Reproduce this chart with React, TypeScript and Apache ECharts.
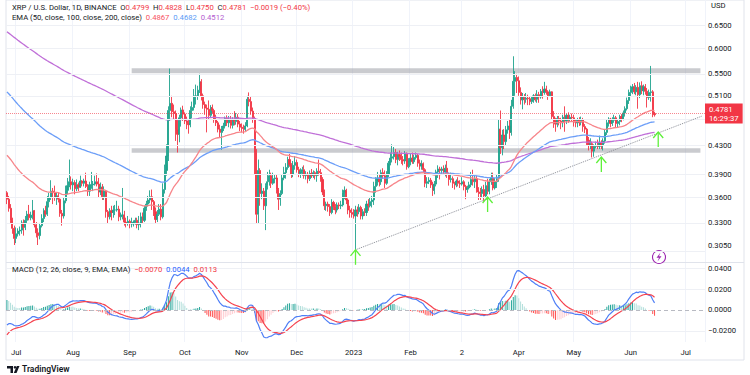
import React, { useEffect, useRef } from 'react';
import * as echarts from 'echarts';

// ---- data (daily XRP/USD, 2022-06-26 .. 2023-06-14) ----
const startDate = Date.UTC(2022, 5, 26);
const totalDays = 381; // axis runs to 2023-07-11
const firstOpen = 0.366;

const closes = [
  // Jun 26-30 2022
  0.358, 0.347, 0.333, 0.324, 0.313,
  // Jul
  0.318, 0.321, 0.322, 0.330, 0.325, 0.333, 0.340, 0.336, 0.339, 0.344, 0.328, 0.319, 0.316, 0.327, 0.335, 0.344,
  0.340, 0.355, 0.360, 0.368, 0.366, 0.360, 0.362, 0.358, 0.341, 0.338, 0.356, 0.369, 0.375, 0.380, 0.376,
  // Aug
  0.379, 0.371, 0.376, 0.373, 0.381, 0.378, 0.381, 0.374, 0.368, 0.376, 0.376, 0.377, 0.380, 0.377, 0.367, 0.373,
  0.361, 0.368, 0.343, 0.337, 0.344, 0.342, 0.345, 0.345, 0.346, 0.337, 0.339, 0.339, 0.331, 0.330, 0.332,
  // Sep
  0.329, 0.329, 0.331, 0.333, 0.328, 0.330, 0.337, 0.333, 0.347, 0.352, 0.357, 0.361, 0.355, 0.343, 0.334, 0.340,
  0.346, 0.337, 0.370, 0.395, 0.415, 0.485, 0.497, 0.483, 0.480, 0.454, 0.447, 0.473, 0.486, 0.479,
  // Oct
  0.468, 0.464, 0.462, 0.485, 0.490, 0.510, 0.510, 0.520, 0.535, 0.510, 0.495, 0.489, 0.487, 0.477, 0.490, 0.485,
  0.470, 0.465, 0.455, 0.450, 0.456, 0.460, 0.472, 0.465, 0.470, 0.461, 0.470, 0.467, 0.474, 0.463, 0.458,
  // Nov
  0.456, 0.455, 0.460, 0.504, 0.500, 0.484, 0.472, 0.420, 0.340, 0.395, 0.365, 0.368, 0.350, 0.375, 0.380, 0.388,
  0.378, 0.384, 0.385, 0.370, 0.358, 0.365, 0.385, 0.392, 0.399, 0.410, 0.403, 0.390, 0.402, 0.406,
  // Dec
  0.396, 0.391, 0.394, 0.396, 0.388, 0.390, 0.384, 0.391, 0.388, 0.392, 0.388, 0.394, 0.392, 0.383, 0.367, 0.350,
  0.352, 0.349, 0.342, 0.354, 0.349, 0.345, 0.351, 0.350, 0.351, 0.366, 0.369, 0.357, 0.345, 0.342, 0.340,
  // Jan 2023
  0.338, 0.345, 0.343, 0.348, 0.338, 0.343, 0.342, 0.352, 0.350, 0.355, 0.357, 0.374, 0.380, 0.385, 0.380, 0.392,
  0.388, 0.378, 0.390, 0.405, 0.412, 0.414, 0.420, 0.410, 0.417, 0.414, 0.410, 0.408, 0.419, 0.400, 0.408,
  // Feb
  0.412, 0.407, 0.413, 0.416, 0.405, 0.401, 0.404, 0.396, 0.378, 0.380, 0.382, 0.376, 0.369, 0.377, 0.393, 0.397,
  0.395, 0.397, 0.393, 0.398, 0.390, 0.383, 0.384, 0.378, 0.376, 0.381, 0.378, 0.377,
  // Mar
  0.380, 0.374, 0.370, 0.372, 0.376, 0.383, 0.380, 0.384, 0.370, 0.367, 0.365, 0.370, 0.362, 0.375, 0.368, 0.380,
  0.385, 0.372, 0.380, 0.384, 0.455, 0.427, 0.446, 0.436, 0.454, 0.460, 0.450, 0.492, 0.536, 0.543, 0.537,
  // Apr
  0.516, 0.503, 0.507, 0.504, 0.506, 0.505, 0.500, 0.503, 0.510, 0.504, 0.512, 0.508, 0.518, 0.516, 0.522, 0.517,
  0.510, 0.517, 0.475, 0.468, 0.463, 0.472, 0.468, 0.465, 0.474, 0.468, 0.477, 0.471, 0.474, 0.473,
  // May
  0.466, 0.465, 0.469, 0.466, 0.470, 0.459, 0.455, 0.438, 0.431, 0.433, 0.422, 0.429, 0.430, 0.429, 0.435, 0.431,
  0.437, 0.450, 0.465, 0.471, 0.464, 0.469, 0.473, 0.464, 0.467, 0.475, 0.471, 0.481, 0.488, 0.502, 0.516,
  // Jun 1-14
  0.521, 0.526, 0.517, 0.525, 0.512, 0.528, 0.519, 0.526, 0.518, 0.507, 0.516, 0.517, 0.4799, 0.4781,
];

const highs = [
  0.368, 0.362, 0.352, 0.336, 0.327,
  0.325, 0.324, 0.326, 0.333, 0.334, 0.338, 0.344, 0.351, 0.343, 0.357, 0.345, 0.331, 0.324, 0.330, 0.340, 0.347,
  0.350, 0.362, 0.366, 0.382, 0.372, 0.375, 0.366, 0.366, 0.359, 0.345, 0.360, 0.375, 0.385, 0.410, 0.387,
  0.384, 0.382, 0.383, 0.379, 0.388, 0.382, 0.384, 0.392, 0.377, 0.380, 0.393, 0.381, 0.388, 0.391, 0.385, 0.379,
  0.377, 0.374, 0.369, 0.345, 0.347, 0.350, 0.350, 0.351, 0.356, 0.350, 0.342, 0.372, 0.344, 0.336, 0.338,
  0.334, 0.336, 0.333, 0.336, 0.336, 0.338, 0.342, 0.342, 0.350, 0.356, 0.362, 0.369, 0.370, 0.357, 0.348, 0.345,
  0.352, 0.352, 0.378, 0.403, 0.432, 0.492, 0.560, 0.510, 0.495, 0.485, 0.470, 0.478, 0.490, 0.493,
  0.482, 0.475, 0.470, 0.492, 0.500, 0.522, 0.530, 0.528, 0.550, 0.540, 0.514, 0.500, 0.495, 0.502, 0.494, 0.495,
  0.488, 0.478, 0.468, 0.462, 0.460, 0.465, 0.475, 0.477, 0.476, 0.476, 0.474, 0.484, 0.481, 0.479, 0.468,
  0.464, 0.462, 0.466, 0.510, 0.516, 0.508, 0.490, 0.475, 0.425, 0.410, 0.398, 0.378, 0.372, 0.378, 0.393, 0.396,
  0.392, 0.392, 0.390, 0.390, 0.372, 0.369, 0.390, 0.400, 0.405, 0.414, 0.418, 0.405, 0.408, 0.415,
  0.410, 0.400, 0.398, 0.400, 0.402, 0.394, 0.393, 0.395, 0.397, 0.395, 0.394, 0.398, 0.410, 0.397, 0.386, 0.370,
  0.355, 0.355, 0.352, 0.358, 0.356, 0.352, 0.354, 0.354, 0.356, 0.370, 0.374, 0.371, 0.359, 0.350, 0.347,
  0.346, 0.350, 0.349, 0.352, 0.350, 0.346, 0.347, 0.356, 0.358, 0.360, 0.362, 0.380, 0.386, 0.393, 0.389, 0.396,
  0.398, 0.395, 0.394, 0.408, 0.420, 0.432, 0.428, 0.425, 0.421, 0.423, 0.420, 0.415, 0.422, 0.420, 0.412,
  0.418, 0.420, 0.417, 0.420, 0.418, 0.410, 0.409, 0.406, 0.398, 0.386, 0.386, 0.385, 0.380, 0.381, 0.396, 0.402,
  0.400, 0.400, 0.402, 0.403, 0.408, 0.392, 0.392, 0.387, 0.380, 0.383, 0.386, 0.382,
  0.386, 0.382, 0.376, 0.375, 0.380, 0.393, 0.396, 0.389, 0.388, 0.373, 0.372, 0.374, 0.376, 0.380, 0.384, 0.384,
  0.392, 0.392, 0.385, 0.390, 0.470, 0.485, 0.454, 0.455, 0.460, 0.468, 0.470, 0.503, 0.584, 0.555, 0.550,
  0.545, 0.525, 0.515, 0.513, 0.515, 0.512, 0.509, 0.508, 0.513, 0.514, 0.520, 0.517, 0.522, 0.527, 0.535, 0.528,
  0.520, 0.521, 0.518, 0.484, 0.473, 0.476, 0.476, 0.473, 0.478, 0.492, 0.480, 0.482, 0.478, 0.480,
  0.478, 0.471, 0.473, 0.474, 0.475, 0.473, 0.463, 0.457, 0.443, 0.441, 0.436, 0.432, 0.436, 0.439, 0.445, 0.438,
  0.441, 0.455, 0.471, 0.474, 0.473, 0.474, 0.478, 0.476, 0.470, 0.478, 0.479, 0.485, 0.492, 0.507, 0.521,
  0.528, 0.531, 0.533, 0.529, 0.535, 0.534, 0.536, 0.530, 0.531, 0.524, 0.521, 0.565, 0.520, 0.4828,
];

const lows = [
  0.352, 0.343, 0.330, 0.318, 0.306,
  0.308, 0.315, 0.316, 0.318, 0.316, 0.322, 0.330, 0.333, 0.333, 0.334, 0.325, 0.314, 0.306, 0.312, 0.325, 0.331,
  0.337, 0.338, 0.348, 0.357, 0.352, 0.356, 0.351, 0.354, 0.337, 0.327, 0.335, 0.353, 0.364, 0.373, 0.370,
  0.368, 0.364, 0.368, 0.368, 0.372, 0.374, 0.374, 0.372, 0.362, 0.362, 0.371, 0.368, 0.375, 0.374, 0.360, 0.363,
  0.357, 0.357, 0.336, 0.330, 0.334, 0.333, 0.336, 0.339, 0.343, 0.332, 0.333, 0.334, 0.327, 0.325, 0.327,
  0.324, 0.325, 0.326, 0.328, 0.324, 0.322, 0.325, 0.330, 0.331, 0.344, 0.349, 0.353, 0.345, 0.338, 0.330, 0.331,
  0.338, 0.333, 0.335, 0.365, 0.388, 0.408, 0.468, 0.474, 0.470, 0.437, 0.420, 0.435, 0.459, 0.468,
  0.463, 0.455, 0.448, 0.458, 0.472, 0.485, 0.495, 0.503, 0.515, 0.502, 0.488, 0.478, 0.450, 0.470, 0.474, 0.480,
  0.465, 0.460, 0.450, 0.443, 0.424, 0.452, 0.456, 0.460, 0.458, 0.456, 0.456, 0.461, 0.462, 0.458, 0.452,
  0.450, 0.448, 0.452, 0.458, 0.492, 0.478, 0.465, 0.390, 0.330, 0.330, 0.350, 0.358, 0.345, 0.322, 0.370, 0.375,
  0.372, 0.376, 0.378, 0.365, 0.345, 0.350, 0.363, 0.382, 0.384, 0.396, 0.400, 0.385, 0.386, 0.396,
  0.392, 0.386, 0.385, 0.388, 0.384, 0.383, 0.378, 0.381, 0.385, 0.385, 0.383, 0.380, 0.388, 0.380, 0.363, 0.345,
  0.344, 0.343, 0.338, 0.340, 0.345, 0.340, 0.342, 0.346, 0.346, 0.349, 0.358, 0.352, 0.340, 0.336, 0.336,
  0.335, 0.301, 0.337, 0.340, 0.334, 0.334, 0.338, 0.338, 0.344, 0.348, 0.348, 0.351, 0.366, 0.375, 0.374, 0.376,
  0.384, 0.372, 0.376, 0.386, 0.402, 0.406, 0.410, 0.405, 0.402, 0.408, 0.404, 0.402, 0.404, 0.396, 0.398,
  0.402, 0.404, 0.404, 0.410, 0.400, 0.396, 0.396, 0.392, 0.373, 0.372, 0.377, 0.372, 0.362, 0.364, 0.374, 0.385,
  0.383, 0.390, 0.389, 0.387, 0.385, 0.375, 0.379, 0.372, 0.370, 0.373, 0.374, 0.372,
  0.375, 0.369, 0.358, 0.366, 0.370, 0.373, 0.375, 0.372, 0.366, 0.357, 0.357, 0.360, 0.356, 0.360, 0.364, 0.364,
  0.376, 0.369, 0.370, 0.372, 0.380, 0.418, 0.416, 0.425, 0.430, 0.448, 0.440, 0.445, 0.488, 0.510, 0.515,
  0.510, 0.495, 0.487, 0.495, 0.498, 0.494, 0.494, 0.496, 0.498, 0.500, 0.498, 0.498, 0.505, 0.505, 0.512, 0.512,
  0.503, 0.508, 0.470, 0.457, 0.451, 0.458, 0.461, 0.455, 0.458, 0.451, 0.463, 0.465, 0.467, 0.467,
  0.459, 0.458, 0.458, 0.460, 0.461, 0.451, 0.449, 0.431, 0.423, 0.425, 0.413, 0.414, 0.426, 0.425, 0.425, 0.425,
  0.423, 0.433, 0.446, 0.459, 0.458, 0.460, 0.465, 0.458, 0.458, 0.461, 0.466, 0.469, 0.475, 0.485, 0.496,
  0.509, 0.513, 0.513, 0.511, 0.488, 0.506, 0.513, 0.511, 0.512, 0.490, 0.503, 0.500, 0.474, 0.4750,
];

// EMA values at the first visible bar (carry-over from earlier history)
const ema50Start = 0.416;
const ema100Start = 0.517;
const ema200Start = 0.635;
const ema12Start = 0.345;
const ema26Start = 0.3594;
const signalStart = -0.024;

// legend read-outs
const ohlcText = { o: '0.4799', h: '0.4828', l: '0.4750', c: '0.4781', chg: '−0.0019 (−0.40%)' };
const emaText = ['0.4867', '0.4682', '0.4512'];
const macdText = ['−0.0070', '0.0044', '0.0113'];

// axis ticks
const priceTicks = [0.305, 0.33, 0.36, 0.39, 0.43, 0.51, 0.55, 0.6, 0.65];
const priceGridLines = [0.305, 0.33, 0.36, 0.39, 0.43, 0.47, 0.51, 0.55, 0.6, 0.65];
const macdTicks = [-0.02, 0, 0.02, 0.04];
const macdGridLines = [-0.02, 0.02, 0.04];
const monthStarts = ['2022-07-01', '2022-08-01', '2022-09-01', '2022-10-01', '2022-11-01', '2022-12-01', '2023-01-01',
  '2023-02-01', '2023-03-01', '2023-04-01', '2023-05-01', '2023-06-01', '2023-07-01'];
const monthLabels = ['Jul', 'Aug', 'Sep', 'Oct', 'Nov', 'Dec', '2023', 'Feb', '2', 'Apr', 'May', 'Jun', 'Jul'];

// drawings
const resistanceBand = [0.5509, 0.5604];
const supportBand = [0.4198, 0.4261];
const bandFrom = '2022-09-02';
const bandTo = '2023-07-09';
const trendFrom: [string, number] = ['2023-01-02', 0.301];
const trendTo: [string, number] = ['2023-07-10', 0.476];
const arrowDates = ['2023-01-02', '2023-03-15', '2023-05-16', '2023-06-16'];
const arrowPrices = [0.301, 0.3607, 0.4136, 0.4506];
const lastPrice = 0.4781;
const countdown = '16:29:37';

const FONT = 'Roboto, "Noto Sans", sans-serif';
const TXT = '#131722';
const FS = 7.7;

function dayStr(i: number) {
  return new Date(startDate + i * 86400000).toISOString().slice(0, 10);
}

function ema(values: number[], seed: number, period: number) {
  const a = 2 / (period + 1);
  const out = [seed];
  for (let i = 1; i < values.length; i++) out.push(a * values[i] + (1 - a) * out[i - 1]);
  return out;
}

export default function App() {
  const ref = useRef<HTMLDivElement>(null);
  useEffect(() => {
    if (!ref.current) return;
    const chart = echarts.init(ref.current, undefined, { renderer: 'svg' });
    const dates = Array.from({ length: totalDays }, (_, i) => dayStr(i));
    const candles = closes.map((c, i) => {
      const o = i === 0 ? firstOpen : closes[i - 1];
      const h = Math.max(highs[i], o, c);
      const l = Math.min(lows[i], o, c);
      return [o, c, l, h];
    });
    const e50 = ema(closes, ema50Start, 50);
    const e100 = ema(closes, ema100Start, 100);
    const e200 = ema(closes, ema200Start, 200);
    const e12 = ema(closes, ema12Start, 12);
    const e26 = ema(closes, ema26Start, 26);
    const macd = e12.map((v, i) => v - e26[i]);
    const signal = [signalStart];
    for (let i = 1; i < macd.length; i++) signal.push(0.2 * macd[i] + 0.8 * signal[i - 1]);
    const hist = macd.map((v, i) => v - signal[i]);
    const histData = hist.map((h, i) => {
      const prev = i === 0 ? h : hist[i - 1];
      const color = h >= 0 ? (h >= prev ? '#26a69a' : '#b2dfdb') : (h < prev ? '#ff5252' : '#ffcdd2');
      return { value: h, itemStyle: { color } };
    });
    const f4 = (v: number) => (v < 0 ? '−' : '') + Math.abs(v).toFixed(4);

    const isMonthStart = (_i: number, v: string) => monthStarts.indexOf(v) >= 0;

    const xBase = {
      type: 'category' as const,
      data: dates,
      boundaryGap: true,
      axisLine: { show: false },
      axisTick: { show: false },
      splitLine: { show: true, interval: isMonthStart, lineStyle: { color: '#f0f3fa', width: 1 } },
    };
    const rt = (fill: string) => ({ fill, fontSize: FS, fontFamily: FONT });

    chart.setOption({
      animation: false,
      textStyle: { fontFamily: FONT },
      grid: [
        { left: 6, right: 45, top: 0, height: 262 },
        { left: 6, right: 45, top: 263, height: 79 },
      ],
      xAxis: [
        { ...xBase, gridIndex: 0, axisLabel: { show: false } },
        {
          ...xBase, gridIndex: 1,
          axisLabel: {
            show: true, interval: isMonthStart, color: TXT, fontSize: FS, margin: 6, fontFamily: FONT,
            formatter: (v: string) => monthLabels[monthStarts.indexOf(v)] ?? '',
          },
        },
      ],
      yAxis: [
        {
          type: 'log', gridIndex: 0, position: 'right', min: 0.2887, max: 0.7081,
          axisLine: { show: false }, axisTick: { show: false }, splitLine: { show: false },
          axisLabel: { customValues: priceTicks, formatter: (v: number) => v.toFixed(4), color: TXT, fontSize: FS, margin: 3, fontFamily: FONT },
        },
        {
          type: 'value', gridIndex: 1, position: 'right', min: -0.0308, max: 0.0452,
          axisLine: { show: false }, axisTick: { show: false }, splitLine: { show: false },
          axisLabel: { customValues: macdTicks, formatter: f4, color: TXT, fontSize: FS, margin: 3, fontFamily: FONT },
        },
      ],
      series: [
        {
          type: 'line', name: 'grid', xAxisIndex: 0, yAxisIndex: 0, data: closes, symbol: 'none', silent: true,
          lineStyle: { opacity: 0 }, z: 0,
          markLine: {
            silent: true, symbol: 'none', label: { show: false },
            lineStyle: { color: '#eef0f5', width: 1, type: 'solid' },
            data: priceGridLines.map((v) => ({ yAxis: v })),
          },
        },
        {
          type: 'candlestick', xAxisIndex: 0, yAxisIndex: 0, data: candles, barWidth: 1.6,
          itemStyle: { color: '#1fa38d', color0: '#f23645', borderColor: '#1fa38d', borderColor0: '#f23645', borderWidth: 0.9 },
          markArea: {
            silent: true,
            itemStyle: { color: 'rgba(150,152,160,0.5)' },
            data: [
              [{ coord: [bandFrom, resistanceBand[1]] }, { coord: [bandTo, resistanceBand[0]] }],
              [{ coord: [bandFrom, supportBand[1]] }, { coord: [bandTo, supportBand[0]] }],
            ],
          },
          markLine: {
            silent: true, symbol: 'none',
            data: [
              {
                yAxis: lastPrice,
                lineStyle: { color: 'rgba(242,54,69,0.6)', type: 'dotted', width: 1 },
                label: {
                  show: true, position: 'end', formatter: `${lastPrice.toFixed(4)}\n${countdown}`,
                  backgroundColor: '#f23645', color: '#ffffff', fontSize: FS, lineHeight: 9, padding: [1, 4, 1, 4],
                  distance: 0, fontFamily: FONT,
                },
              },
              [
                { coord: trendFrom, lineStyle: { color: '#8a8d96', type: 'dotted', width: 1 }, label: { show: false } },
                { coord: trendTo },
              ],
            ],
          },
        },
        { type: 'line', xAxisIndex: 0, yAxisIndex: 0, data: e200, symbol: 'none', silent: true, lineStyle: { color: '#c070d8', width: 1.3 } },
        { type: 'line', xAxisIndex: 0, yAxisIndex: 0, data: e100, symbol: 'none', silent: true, lineStyle: { color: '#6c9ef8', width: 1.3 } },
        { type: 'line', xAxisIndex: 0, yAxisIndex: 0, data: e50, symbol: 'none', silent: true, lineStyle: { color: '#f7858a', width: 1.3 } },
        {
          type: 'custom', xAxisIndex: 0, yAxisIndex: 0, silent: true, z: 10,
          data: arrowDates.map((d, i) => [d, arrowPrices[i]]),
          renderItem: (_p: any, api: any) => {
            const pt = api.coord([api.value(0), api.value(1)]);
            const c = '#5ef03a';
            return {
              type: 'group',
              children: [
                { type: 'line', shape: { x1: pt[0], y1: pt[1], x2: pt[0], y2: pt[1] + 15 }, style: { stroke: c, lineWidth: 1.3 } },
                { type: 'polyline', shape: { points: [[pt[0] - 5, pt[1] + 6], [pt[0], pt[1]], [pt[0] + 5, pt[1] + 6]] }, style: { stroke: c, fill: 'none', lineWidth: 1.3 } },
              ],
            };
          },
        },
        {
          type: 'line', name: 'mgrid', xAxisIndex: 1, yAxisIndex: 1, data: macd, symbol: 'none', silent: true,
          lineStyle: { opacity: 0 }, z: 0,
          markLine: {
            silent: true, symbol: 'none', label: { show: false },
            data: [
              ...macdGridLines.map((v) => ({ yAxis: v, lineStyle: { color: '#eef0f5', width: 1, type: 'solid' } })),
              { yAxis: 0, lineStyle: { color: '#b8bac2', width: 1, type: [4, 3] } },
            ],
          },
        },
        { type: 'bar', xAxisIndex: 1, yAxisIndex: 1, data: histData, barWidth: 1, silent: true },
        { type: 'line', xAxisIndex: 1, yAxisIndex: 1, data: macd, symbol: 'none', silent: true, lineStyle: { color: '#4f7ff6', width: 1.2 } },
        { type: 'line', xAxisIndex: 1, yAxisIndex: 1, data: signal, symbol: 'none', silent: true, lineStyle: { color: '#f5434f', width: 1.2 } },
      ],
      graphic: [
        { type: 'rect', shape: { x: 6, y: 0, width: 738, height: 360 }, style: { fill: 'none', stroke: '#e0e3eb', lineWidth: 1 }, silent: true },
        { type: 'line', shape: { x1: 6, y1: 262.5, x2: 744, y2: 262.5 }, style: { stroke: '#e0e3eb', lineWidth: 1 }, silent: true },
        {
          type: 'text', x: 12, y: 3, z: 100,
          style: {
            text: `{t|XRP / U.S. Dollar, 1D, BINANCE}  {t|O}{r|${ohlcText.o}}  {t|H}{r|${ohlcText.h}}  {t|L}{r|${ohlcText.l}}  {t|C}{r|${ohlcText.c}}  {r|${ohlcText.chg}}`,
            font: `${FS}px ${FONT}`,
            rich: { t: rt(TXT), r: rt('#f23645') },
          },
        },
        {
          type: 'text', x: 12, y: 13, z: 100,
          style: {
            text: `{t|EMA (50, close, 100, close, 200, close)}  {a|${emaText[0]}}  {b|${emaText[1]}}  {c|${emaText[2]}}`,
            font: `${FS}px ${FONT}`,
            rich: { t: rt(TXT), a: rt('#f7525f'), b: rt('#5b9cf6'), c: rt('#b35bd0') },
          },
        },
        {
          type: 'text', x: 12, y: 265, z: 100,
          style: {
            text: `{t|MACD (12, 26, close, 9, EMA, EMA)}  {a|${macdText[0]}}  {b|${macdText[1]}}  {c|${macdText[2]}}`,
            font: `${FS}px ${FONT}`,
            rich: { t: rt(TXT), a: rt('#f23645'), b: rt('#2962ff'), c: rt('#f23645') },
          },
        },
        { type: 'text', x: 711, y: 1, style: { text: 'USD', fill: TXT, font: `${FS}px ${FONT}` } },
        // lightning badge
        { type: 'circle', shape: { cx: 659, cy: 257, r: 6.5 }, style: { fill: '#fff', stroke: '#9c27b0', lineWidth: 1.1 } },
        { type: 'polygon', shape: { points: [[660.5, 252.5], [656.5, 257.8], [659, 257.8], [657.5, 261.5], [661.5, 256.2], [659, 256.2]] }, style: { fill: '#9c27b0' } },
        // TradingView logo
        { type: 'polygon', shape: { points: [[7, 366], [13, 366], [13, 373], [10.5, 373], [10.5, 368.5], [7, 368.5]] }, style: { fill: TXT } },
        { type: 'circle', shape: { cx: 15, cy: 367.3, r: 1.3 }, style: { fill: TXT } },
        { type: 'polygon', shape: { points: [[16.8, 366], [19.5, 366], [16.5, 373], [13.8, 373]] }, style: { fill: TXT } },
        { type: 'text', x: 22, y: 364, style: { text: 'TradingView', fill: TXT, font: `600 8.5px ${FONT}` } },
      ],
    });
    return () => chart.dispose();
  }, []);
  return <div ref={ref} style={{ position: 'fixed', left: 0, top: 0, width: 750, height: 375, background: '#fff' }} />;
}
